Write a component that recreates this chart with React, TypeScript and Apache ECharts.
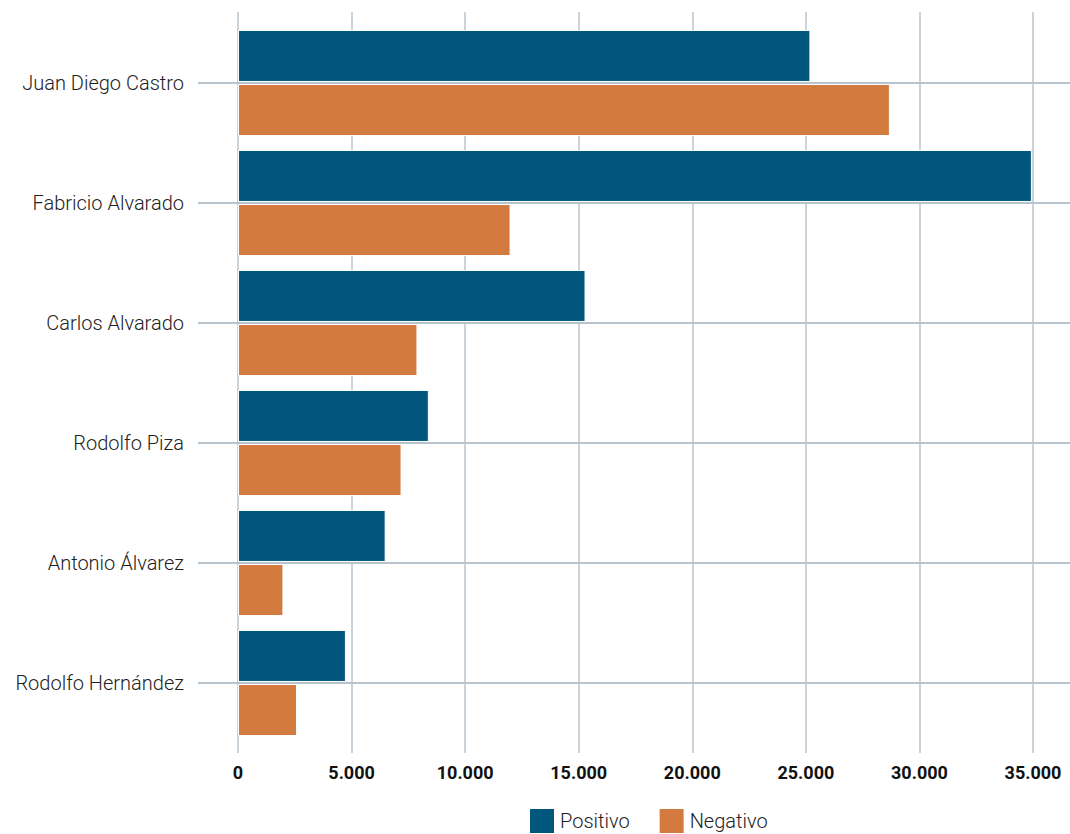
import React, { useEffect, useRef } from "react";
import * as echarts from "echarts";

const categories = [
  "Juan Diego Castro",
  "Fabricio Alvarado",
  "Carlos Alvarado",
  "Rodolfo Piza",
  "Antonio Álvarez",
  "Rodolfo Hernández",
];
const positivo = [25200, 34950, 15300, 8400, 6500, 4750];
const negativo = [28700, 12000, 7900, 7200, 2000, 2600];
const xTicksMax = 35000;
const xTickStep = 5000;

const BLUE = "#00567D";
const ORANGE = "#D37A3F";
const GRID = "#B7C4CD";
const FONT = "Roboto";

function fmt(v: number) {
  return String(Math.round(v)).replace(/\B(?=(\d{3})+(?!\d))/g, ".");
}

export default function App() {
  const ref = useRef<HTMLDivElement>(null);
  useEffect(() => {
    if (!ref.current) return;
    const chart = echarts.init(ref.current, undefined, { renderer: "svg" });
    chart.setOption({
      animation: false,
      backgroundColor: "#ffffff",
      textStyle: { fontFamily: FONT },
      legend: {
        left: 528,
        top: 807,
        padding: 0,
        itemWidth: 26,
        itemHeight: 26,
        itemGap: 28,
        icon: "rect",
        textStyle: { fontFamily: FONT, fontSize: 20, fontWeight: 300, color: "#222" },
        data: ["Positivo", "Negativo"],
      },
      grid: [
        { left: 238, width: 795, top: 23, height: 720 },
        { left: 238, width: 795, top: 12, height: 741 },
        { left: 198, right: 0, top: 83, height: 600 },
      ],
      xAxis: [
        { gridIndex: 0, type: "value", min: 0, max: xTicksMax, show: false },
        {
          gridIndex: 1,
          type: "value",
          min: 0,
          max: xTicksMax,
          interval: xTickStep,
          axisLine: { show: false },
          axisTick: { show: false },
          axisLabel: {
            margin: 10,
            fontFamily: FONT,
            fontSize: 18,
            fontWeight: "bold",
            color: "#111",
            formatter: (v: number) => fmt(v),
          },
          splitLine: {
            show: true,
            showMinLine: true,
            showMaxLine: true,
            lineStyle: { color: GRID, width: 1.5 },
          },
        },
        { gridIndex: 2, type: "value", min: 0, max: 1, show: false },
      ],
      yAxis: [
        {
          gridIndex: 0,
          type: "category",
          inverse: true,
          data: categories,
          axisLine: { show: false },
          axisTick: { show: false },
          splitLine: { show: false },
          axisLabel: {
            margin: 54,
            fontFamily: FONT,
            fontSize: 20,
            fontWeight: 300,
            color: "#222",
          },
        },
        { gridIndex: 1, type: "value", min: 0, max: 1, show: false },
        {
          gridIndex: 2,
          type: "value",
          min: 0,
          max: categories.length - 1,
          interval: 1,
          axisLine: { show: false },
          axisTick: { show: false },
          axisLabel: { show: false },
          splitLine: {
            show: true,
            showMinLine: true,
            showMaxLine: true,
            lineStyle: { color: GRID, width: 2 },
          },
        },
      ],
      series: [
        {
          name: "Positivo",
          type: "bar",
          xAxisIndex: 0,
          yAxisIndex: 0,
          data: positivo,
          barWidth: 52,
          barGap: "4%",
          itemStyle: { color: BLUE, borderColor: "#ffffff", borderWidth: 1 },
        },
        {
          name: "Negativo",
          type: "bar",
          xAxisIndex: 0,
          yAxisIndex: 0,
          data: negativo,
          barWidth: 52,
          barGap: "4%",
          itemStyle: { color: ORANGE, borderColor: "#ffffff", borderWidth: 1 },
        },
      ],
    });
    return () => chart.dispose();
  }, []);
  return (
    <div
      ref={ref}
      style={{ position: "absolute", left: 0, top: 0, width: 1070, height: 834 }}
    />
  );
}
